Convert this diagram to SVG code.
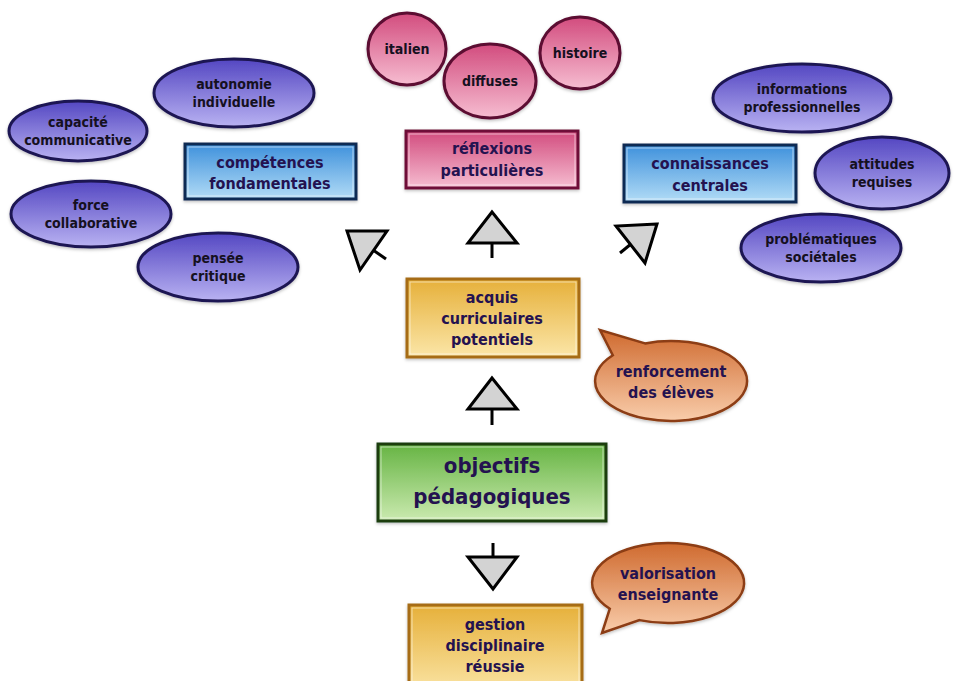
<svg xmlns="http://www.w3.org/2000/svg" width="958" height="681" viewBox="0 0 958 681">
<defs>
<linearGradient id="gBlueOval" x1="0" y1="0" x2="0" y2="1"><stop offset="0" stop-color="#5447c2"/><stop offset="1" stop-color="#b9b2f2"/></linearGradient>
<linearGradient id="gPink" x1="0" y1="0" x2="0" y2="1"><stop offset="0" stop-color="#d24c7e"/><stop offset="1" stop-color="#f6bdd1"/></linearGradient>
<linearGradient id="gBlueRect" x1="0" y1="0" x2="0" y2="1"><stop offset="0" stop-color="#3f91dc"/><stop offset="1" stop-color="#b2dcf6"/></linearGradient>
<linearGradient id="gGold" x1="0" y1="0" x2="0" y2="1"><stop offset="0" stop-color="#e6b03a"/><stop offset="1" stop-color="#fbe6a8"/></linearGradient>
<linearGradient id="gGreen" x1="0" y1="0" x2="0" y2="1"><stop offset="0" stop-color="#66b443"/><stop offset="1" stop-color="#cbeab0"/></linearGradient>
<linearGradient id="gOrange" x1="0" y1="0" x2="0" y2="1"><stop offset="0" stop-color="#cf6a2f"/><stop offset="1" stop-color="#f9cdab"/></linearGradient>
<filter id="shadow" x="-10%" y="-10%" width="120%" height="130%"><feDropShadow dx="0" dy="1.5" stdDeviation="1.5" flood-color="#000" flood-opacity="0.25"/></filter>
</defs>
<style>
text{font-family:"DejaVu Sans Condensed","DejaVu Sans",sans-serif;font-weight:bold;text-anchor:middle;}
.ov{fill:url(#gBlueOval);stroke:#1e1652;stroke-width:3;filter:url(#shadow);}
.pk{fill:url(#gPink);stroke:#5c0e32;stroke-width:3;filter:url(#shadow);}
.br{fill:url(#gBlueRect);stroke:#0f2a52;stroke-width:3;filter:url(#shadow);}
.pr{fill:url(#gPink);stroke:#6e1038;stroke-width:3;filter:url(#shadow);}
.gr{fill:url(#gGold);stroke:#a66c12;stroke-width:3;filter:url(#shadow);}
.gn{fill:url(#gGreen);stroke:#1a3c10;stroke-width:3;filter:url(#shadow);}
.ob{fill:url(#gOrange);stroke:#8c3c12;stroke-width:2.5;filter:url(#shadow);}
.inner{fill:none;stroke:#ffffff;stroke-opacity:0.55;stroke-width:1;}
.t1{font-size:14px;fill:#151020;}
.t2{font-size:16px;fill:#241250;}
.t3{font-size:22px;fill:#241250;}
.ah{fill:#d3d3d3;stroke:#000;stroke-width:3;stroke-linejoin:miter;}
.sh{stroke:#000;stroke-width:3;fill:none;}
</style>

<g id="connectors">
<g id="arrow-up-left"><line class="sh" x1="386" y1="259" x2="373" y2="250"/><polygon class="ah" points="347,231 387,231 360,270"/></g>
<g id="arrow-up-top"><line class="sh" x1="492" y1="243" x2="492" y2="258"/><polygon class="ah" points="492,212 468,243 517,243"/></g>
<g id="arrow-up-right"><line class="sh" x1="620" y1="253" x2="631" y2="244"/><polygon class="ah" points="657,224 616,226 645,263"/></g>
<g id="arrow-up-mid"><line class="sh" x1="492" y1="409" x2="492" y2="425"/><polygon class="ah" points="492,378 468,409 517,409"/></g>
<g id="arrow-down"><line class="sh" x1="493" y1="543" x2="493" y2="557"/><polygon class="ah" points="468,557 517,557 493,589"/></g>
</g>

<g id="autonomie"><ellipse class="ov" cx="234" cy="93" rx="80" ry="34"/><text class="t1" x="234" y="89">autonomie</text><text class="t1" x="234" y="107">individuelle</text></g>
<g id="capacite"><ellipse class="ov" cx="78" cy="131" rx="69" ry="30"/><text class="t1" x="78" y="127">capacité</text><text class="t1" x="78" y="145">communicative</text></g>
<g id="force"><ellipse class="ov" cx="91" cy="214" rx="80" ry="33"/><text class="t1" x="91" y="210">force</text><text class="t1" x="91" y="228">collaborative</text></g>
<g id="pensee"><ellipse class="ov" cx="218" cy="267" rx="80" ry="34"/><text class="t1" x="218" y="263">pensée</text><text class="t1" x="218" y="281">critique</text></g>
<g id="competences"><rect class="br" x="185" y="144" width="171" height="55"/><rect class="inner" x="188" y="147" width="165" height="49"/><text class="t2" x="270" y="168">compétences</text><text class="t2" x="270" y="189">fondamentales</text></g>

<g id="italien"><ellipse class="pk" cx="407" cy="49" rx="39" ry="36"/><text class="t1" x="407" y="54">italien</text></g>
<g id="diffuses"><ellipse class="pk" cx="490" cy="81" rx="46" ry="37"/><text class="t1" x="490" y="86">diffuses</text></g>
<g id="histoire"><ellipse class="pk" cx="580" cy="53" rx="40" ry="36"/><text class="t1" x="580" y="58">histoire</text></g>
<g id="reflexions"><rect class="pr" x="406" y="131" width="172" height="57"/><rect class="inner" x="409" y="134" width="166" height="51"/><text class="t2" x="492" y="154">réflexions</text><text class="t2" x="492" y="176">particulières</text></g>

<g id="informations"><ellipse class="ov" cx="802" cy="98" rx="89" ry="34"/><text class="t1" x="802" y="94">informations</text><text class="t1" x="802" y="112">professionnelles</text></g>
<g id="connaissances"><rect class="br" x="624" y="145" width="172" height="57"/><rect class="inner" x="627" y="148" width="166" height="51"/><text class="t2" x="710" y="169">connaissances</text><text class="t2" x="710" y="191">centrales</text></g>
<g id="attitudes"><ellipse class="ov" cx="882" cy="173" rx="67" ry="36"/><text class="t1" x="882" y="169">attitudes</text><text class="t1" x="882" y="187">requises</text></g>
<g id="problematiques"><ellipse class="ov" cx="821" cy="248" rx="80" ry="34"/><text class="t1" x="821" y="244">problématiques</text><text class="t1" x="821" y="262">sociétales</text></g>

<g id="acquis"><rect class="gr" x="407" y="279" width="172" height="78"/><rect class="inner" x="410" y="282" width="166" height="72"/><text class="t2" x="492" y="303">acquis</text><text class="t2" x="492" y="324">curriculaires</text><text class="t2" x="492" y="345">potentiels</text></g>
<g id="renforcement"><path class="ob" d="M645,343.4 L600,330 L612.8,355.3 A76,40 0 1 0 645,343.4 Z"/><text class="t2" x="671" y="377">renforcement</text><text class="t2" x="671" y="398">des élèves</text></g>

<g id="objectifs"><rect class="gn" x="378" y="444" width="228" height="77"/><rect class="inner" x="381" y="447" width="222" height="71"/><text class="t3" x="492" y="473">objectifs</text><text class="t3" x="492" y="504">pédagogiques</text></g>

<g id="gestion"><rect class="gr" x="409" y="605" width="173" height="90"/><rect class="inner" x="412" y="608" width="167" height="84"/><text class="t2" x="495" y="630">gestion</text><text class="t2" x="495" y="651">disciplinaire</text><text class="t2" x="495" y="672">réussie</text></g>
<g id="valorisation"><path class="ob" d="M609.8,608.7 L602,633 L639.5,620.1 A76,40 0 1 0 609.8,608.7 Z"/><text class="t2" x="668" y="579">valorisation</text><text class="t2" x="668" y="600">enseignante</text></g>
</svg>
